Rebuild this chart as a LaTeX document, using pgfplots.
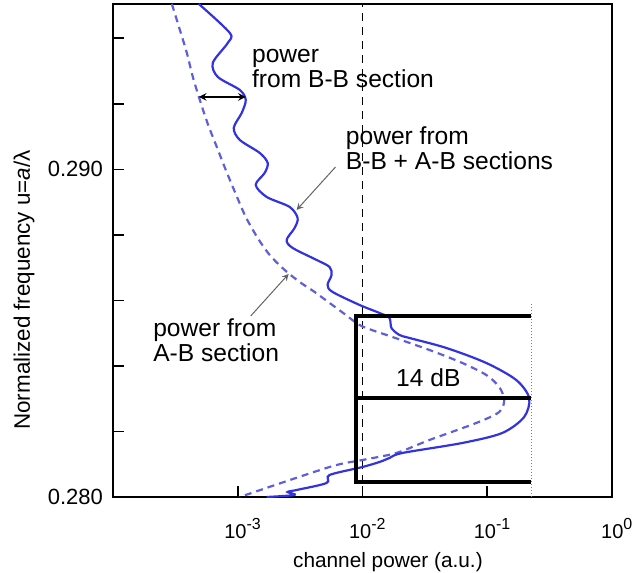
\documentclass[border=0pt]{standalone}
\usepackage{fontspec}
\setmainfont{Liberation Sans}
\usepackage{pgfplots}
\pgfplotsset{compat=1.18}
\definecolor{solidblue}{RGB}{50,50,225}
\definecolor{dashblue}{RGB}{95,95,220}
\definecolor{ptrgray}{RGB}{100,100,100}
\newcommand{\expo}[1]{\raisebox{4.5bp}{\fontsize{8bp}{9bp}\selectfont #1}}
\begin{document}
\begin{tikzpicture}
\begin{axis}[
  at={(0,0)}, anchor=south west,
  scale only axis, width=249.5bp, height=246.5bp,
  xmode=log, xmin=1e-4, xmax=1, ymin=0.28, ymax=0.29505,
  xtick={1e-3,1e-2,1e-1,1},
  xticklabels={10\expo{-3},10\expo{-2},10\expo{-1},10\expo{0}},
  xminorticks=false,
  ytick={0.280,0.282,0.284,0.286,0.288,0.290,0.292,0.294},
  yticklabels={0.280,,,,,0.290,,},
  scaled y ticks=false,
  tick align=inside, xtick pos=bottom, ytick pos=left,
  major tick length=5.5bp,
  every tick/.style={black, line width=0.9bp},
  axis line style={line width=1.2bp},
  xticklabel style={font=\fontsize{10bp}{11bp}\selectfont, xshift=2.4bp, yshift=-7bp},
  yticklabel style={font=\fontsize{11bp}{12bp}\selectfont, xshift=-1.5bp},
  xlabel={channel power (a.u.)},
  ylabel={Normalized frequency u=\textit{a}/λ},
  xlabel style={font=\fontsize{10.4bp}{12bp}\selectfont, at={(axis description cs:0.551,-0.132)}, anchor=center},
  ylabel style={font=\fontsize{11.2bp}{13bp}\selectfont, at={(axis description cs:-0.178,0.42)}, anchor=center},
]
% vertical dashed at 1e-2
\addplot[black, line width=0.5bp, dash pattern=on 4bp off 3bp] coordinates {(0.01,0.28) (0.01,0.29505)};
% dotted at peak
\addplot[gray, line width=0.5bp, densely dotted] coordinates {(0.2249,0.28) (0.2249,0.285924)};
% dashed curve: A-B section
\addplot[dashblue, line width=1.1bp, dash pattern=on 3.5bp off 2.5bp, smooth, tension=0.5] coordinates {
(2.965e-4,0.29505)
(3.436e-4,0.294260)
(3.908e-4,0.293557)
(4.365e-4,0.292824)
(4.966e-4,0.292122)
(5.754e-4,0.291389)
(6.792e-4,0.290687)
(8.017e-4,0.289985)
(9.638e-4,0.289252)
(1.159e-3,0.288550)
(1.445e-3,0.287908)
(1.803e-3,0.287389)
(2.377e-3,0.286931)
(3.133e-3,0.286565)
(4.130e-3,0.286260)
(5.445e-3,0.285924)
(7.178e-3,0.285588)
(9.462e-3,0.285252)
(1.247e-2,0.285069)
(1.644e-2,0.284916)
(0.03436,0.284489)
(0.0631,0.284092)
(0.09817,0.283725)
(0.1247,0.283359)
(0.1368,0.282962)
(0.1247,0.282595)
(0.0817,0.282260)
(0.03436,0.281740)
(0.01871,0.281344)
(0.0100,0.281130)
(5.445e-3,0.280916)
(1.038e-3,0.280000)
};
% solid curve: B-B + A-B sections
\addplot[solidblue, line width=1.1bp, smooth, tension=0.5] coordinates {
(4.88e-4,0.29505)
(8.63e-4,0.294168)
(8.32e-4,0.293863)
(6.31e-4,0.293252)
(6.92e-4,0.292824)
(1.038e-3,0.292427)
(1.159e-3,0.292122)
(1.076e-3,0.291725)
(9.29e-4,0.291267)
(1.038e-3,0.290901)
(1.500e-3,0.290504)
(1.738e-3,0.290198)
(1.644e-3,0.289893)
(1.393e-3,0.289527)
(1.706e-3,0.289160)
(2.606e-3,0.288855)
(3.020e-3,0.288519)
(2.858e-3,0.288214)
(2.466e-3,0.287847)
(2.754e-3,0.287603)
(4.285e-3,0.287237)
(5.445e-3,0.287023)
(5.649e-3,0.286779)
(5.248e-3,0.286473)
(5.754e-3,0.286260)
(9.462e-3,0.285863)
(0.01368,0.285618)
(0.01644,0.285466)
(0.01706,0.285160)
(0.01977,0.284947)
(0.02377,0.284855)
(0.04699,0.284550)
(0.09817,0.284092)
(0.1706,0.283573)
(0.2168,0.283023)
(0.1977,0.282443)
(0.1318,0.281954)
(0.0631,0.281649)
(0.02089,0.281344)
(0.01644,0.281191)
(0.01368,0.281069)
(0.0100,0.280916)
(5.445e-3,0.280672)
(5.152e-3,0.280427)
(2.965e-3,0.280214)
(2.512e-3,0.280153)
(2.858e-3,0.280061)
(1.706e-3,0.280000)
};
% black bracket bars
\addplot[black, line width=2bp] coordinates {(0.2249,0.285527) (0.00895,0.285527) (0.00895,0.280458) (0.2249,0.280458)};
\addplot[black, line width=2bp] coordinates {(0.00895,0.283023) (0.2249,0.283023)};
% annotations
\draw[black, line width=0.7bp, <->, >=stealth] (axis cs:4.88e-4,0.292214) -- (axis cs:1.159e-3,0.292214);
\draw[ptrgray, line width=0.5bp, ->, >=stealth] (axis cs:6.081e-3,0.290076) -- (axis cs:2.965e-3,0.288763);
\draw[ptrgray, line width=0.5bp, ->, >=stealth] (axis cs:1.271e-3,0.285527) -- (axis cs:2.559e-3,0.286809);
\node[anchor=west, align=left, inner sep=0pt, font=\fontsize{12.3bp}{12.5bp}\selectfont] at (axis cs:1.294e-3,0.293084) {power\\from B-B section};
\node[anchor=west, align=left, inner sep=0pt, font=\fontsize{12.3bp}{12.5bp}\selectfont] at (axis cs:7.31e-3,0.290641) {power from\\B-B + A-B sections};
\node[anchor=west, align=left, inner sep=0pt, font=\fontsize{12.3bp}{12.5bp}\selectfont] at (axis cs:2.089e-4,0.284794) {power from\\A-B section};
\node[anchor=center, inner sep=0pt, font=\fontsize{12.3bp}{12.5bp}\selectfont] at (axis cs:0.03373,0.283634) {14 dB};
\end{axis}
\pgfresetboundingbox
\path[use as bounding box] (-56.5bp,-38bp) rectangle (264bp,248.5bp);
\end{tikzpicture}
\end{document}
